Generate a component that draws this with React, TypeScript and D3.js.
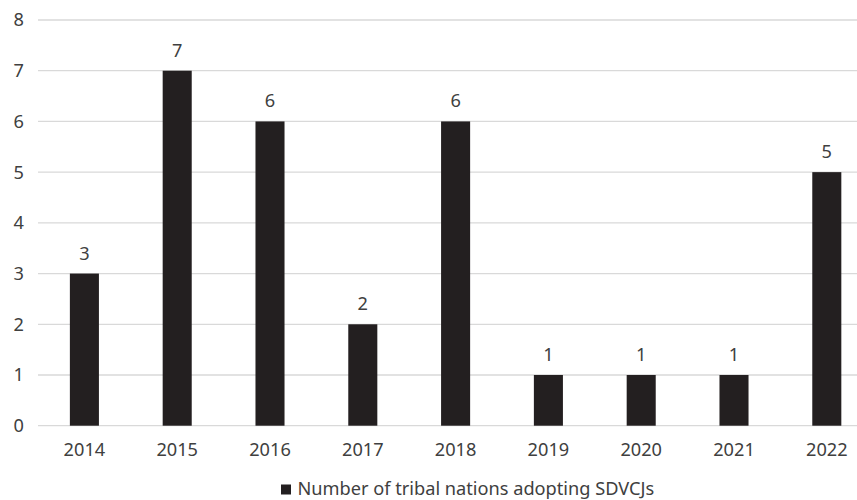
import React from "react";
import * as d3 from "d3";

const years = ["2014", "2015", "2016", "2017", "2018", "2019", "2020", "2021", "2022"];
const values = [3, 7, 6, 2, 6, 1, 1, 1, 5];
const yTicks = [0, 1, 2, 3, 4, 5, 6, 7, 8];
const seriesName = "Number of tribal nations adopting SDVCJs";

const W = 857;
const H = 500;
const FONT = "'Noto Sans', 'Open Sans', sans-serif";
const FS = 18.2;
const TEXT = "#404040";
const BAR = "#231f20";
const GRID = "#d9d9d9";

export default function App() {
  const x = d3.scaleBand<string>().domain(years).range([38, 38 + 9 * 92.8]).paddingInner(0.687).paddingOuter(0.3435);
  const y = d3.scaleLinear().domain([0, 8]).range([425.7, 20]);
  return (
    <svg width={W} height={H} style={{ position: "absolute", left: 0, top: 0, background: "#fff" }} fontFamily={FONT}>
      {yTicks.map((t) => (
        <g key={t}>
          <line x1={38} x2={W} y1={y(t)} y2={y(t)} stroke={GRID} strokeWidth={1.3} />
          <text x={24} y={y(t)} dy="0.35em" textAnchor="end" fontSize={FS} fill={TEXT}>{t}</text>
        </g>
      ))}
      {years.map((yr, i) => (
        <g key={yr}>
          <rect x={x(yr)} y={y(values[i])} width={x.bandwidth()} height={y(0) - y(values[i])} fill={BAR} />
          <text x={(x(yr) as number) + x.bandwidth() / 2} y={y(values[i]) - 14} textAnchor="middle" fontSize={FS} fill={TEXT}>{values[i]}</text>
          <text x={(x(yr) as number) + x.bandwidth() / 2} y={456} textAnchor="middle" fontSize={FS} fill={TEXT}>{yr}</text>
        </g>
      ))}
      <rect x={281} y={484.5} width={10} height={10} fill={BAR} />
      <text x={297.5} y={495} fontSize={FS} fill={TEXT}>{seriesName}</text>
    </svg>
  );
}
